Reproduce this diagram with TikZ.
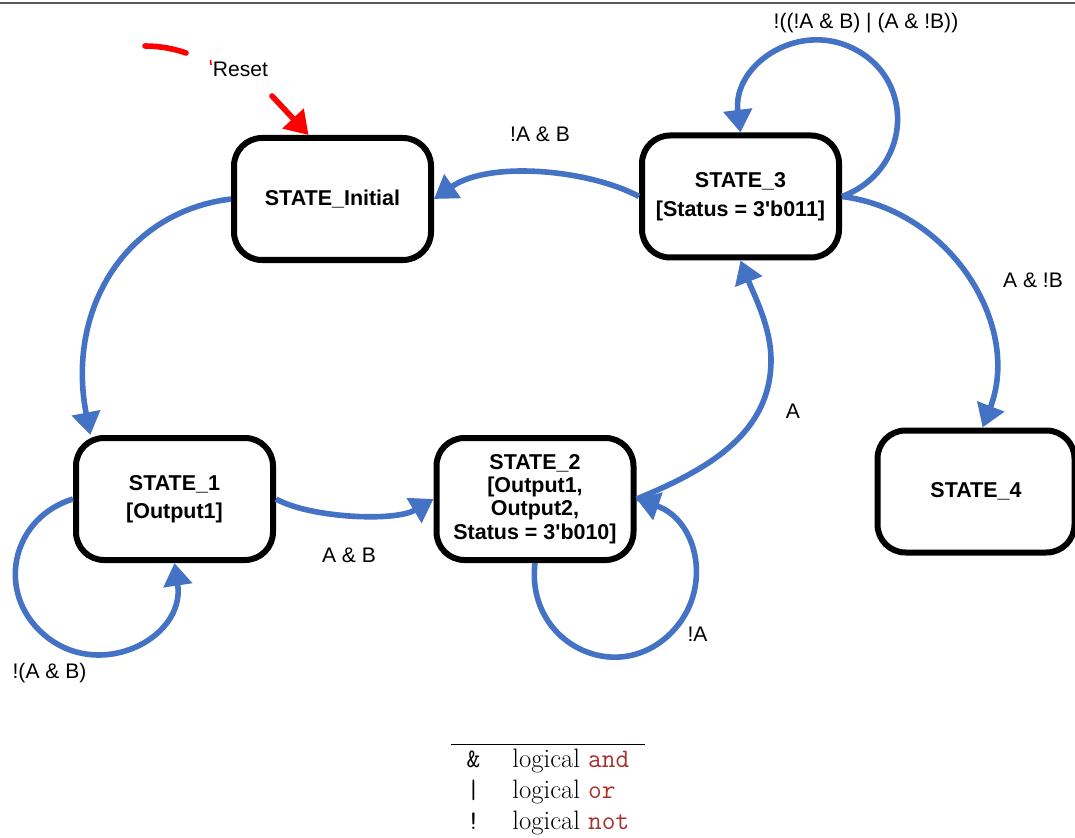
\documentclass[tikz,border=0pt]{standalone}
\usepackage{fontspec}
\setsansfont{Liberation Sans}[Ligatures=TeXOff]
\usepackage{xcolor}
\usetikzlibrary{arrows.meta}
\definecolor{edgecol}{HTML}{4472C4}
\definecolor{resetcol}{HTML}{FF0000}
\definecolor{kwcol}{HTML}{A8302E}

\begin{document}
\begin{tikzpicture}[x=0.75pt,y=-0.75pt,>={Triangle[length=17pt,width=21pt]},
  state/.style={draw,line width=4.5pt,rounded corners=21pt,minimum width=147.75pt,minimum height=91.5pt,
    align=center,font=\sffamily\bfseries\fontsize{16.1}{21.4}\selectfont},
  edge/.style={edgecol,line width=4.2pt,->},
  lbl/.style={font=\sffamily\fontsize{15.8}{19}\selectfont,inner sep=0pt}]
  \useasboundingbox (0,0) rectangle (1075,838);
  \draw[black!65,line width=1.1pt] (0,3) -- (1075,3);

  % states
  \node[state] (init) at (332.5,199) {STATE\_Initial};
  \node[state] (s3) at (740.5,196.5) {STATE\_3\\{}[Status = 3'b011]};
  \node[state] (s1) at (174.5,499) {STATE\_1\\{}[Output1]};
  \node[state,font=\sffamily\bfseries\fontsize{16.1}{17.5}\selectfont] (s2) at (535,499)
    {STATE\_2\\{}[Output1,\\Output2,\\Status = 3'b010]};
  \node[state] (s4) at (976,491.5) {STATE\_4};

  % reset
  \coordinate (rst) at (272,96);
  \draw[resetcol,line width=4.2pt,line cap=round] (145,46) .. controls (160,46) and (175,49) .. (186,53);
  \draw[resetcol,line width=1.2pt] (210.5,60) -- (211,65);
  \draw[resetcol,line width=4.2pt,line cap=round,->] (rst) -- ([xshift=-18pt]init.north);
  \node[lbl] (lreset) at (240.5,69) {Reset};

  % transitions
  \draw[edge] (init.west) .. controls (125,212) and (66,310) .. ([xshift=13pt]s1.north west);
  \draw[edge] (s1.east) .. controls (310,518) and (395,522) .. (s2.west);
  \draw[edge] (s1.west) .. controls (14,517) and (-4,587) .. (39,630)
    .. controls (94,685) and (186,640) .. (s1.south);
  \draw[edge] (s2.south) .. controls (525.5,642.5) and (616,688) .. (671,633)
    .. controls (714,590) and (698,520) .. (s2.east);
  \draw[edge] (s2.east) .. controls (707,470) and (771,434) .. (771,360)
    .. controls (771,327) and (754,295) .. (s3.south);
  \draw[edge] (s3.west) .. controls (590,170) and (490,160) .. (init.east);
  \draw[edge] (s3.east) .. controls (910,171) and (916,84) .. (858,51)
    .. controls (801,18) and (732,64) .. (s3.north);
  \draw[edge] (s3.east) .. controls (950,210) and (1022,325) .. ([xshift=5pt]s4.north);

  \node[lbl] (lab) at (540,134) {!A \& B};
  \node[lbl] (lloop3) at (866,23) {!((!A \& B) | (A \& !B))};
  \node[lbl] (lanb) at (1033,280) {A \& !B};
  \node[lbl] (la) at (793,411) {A};
  \node[lbl] (lab1) at (349,555) {A \& B};
  \node[lbl] (lloop1) at (49.5,673) {!(A \& B)};
  \node[lbl] (lloop2) at (697.5,634) {!A};

  % legend
  \node[anchor=north,inner sep=0pt,font=\fontsize{20}{23.25}\selectfont] (legend) at (548,744)
    {\setlength{\tabcolsep}{12pt}\setlength{\arrayrulewidth}{0.9pt}%
     \begin{tabular}{cl}\hline
     \texttt{\&} & logical \textcolor{kwcol}{\texttt{and}}\\
     \texttt{|} & logical \textcolor{kwcol}{\texttt{or}}\\
     \texttt{!} & logical \textcolor{kwcol}{\texttt{not}}
     \end{tabular}};
\end{tikzpicture}
\end{document}
